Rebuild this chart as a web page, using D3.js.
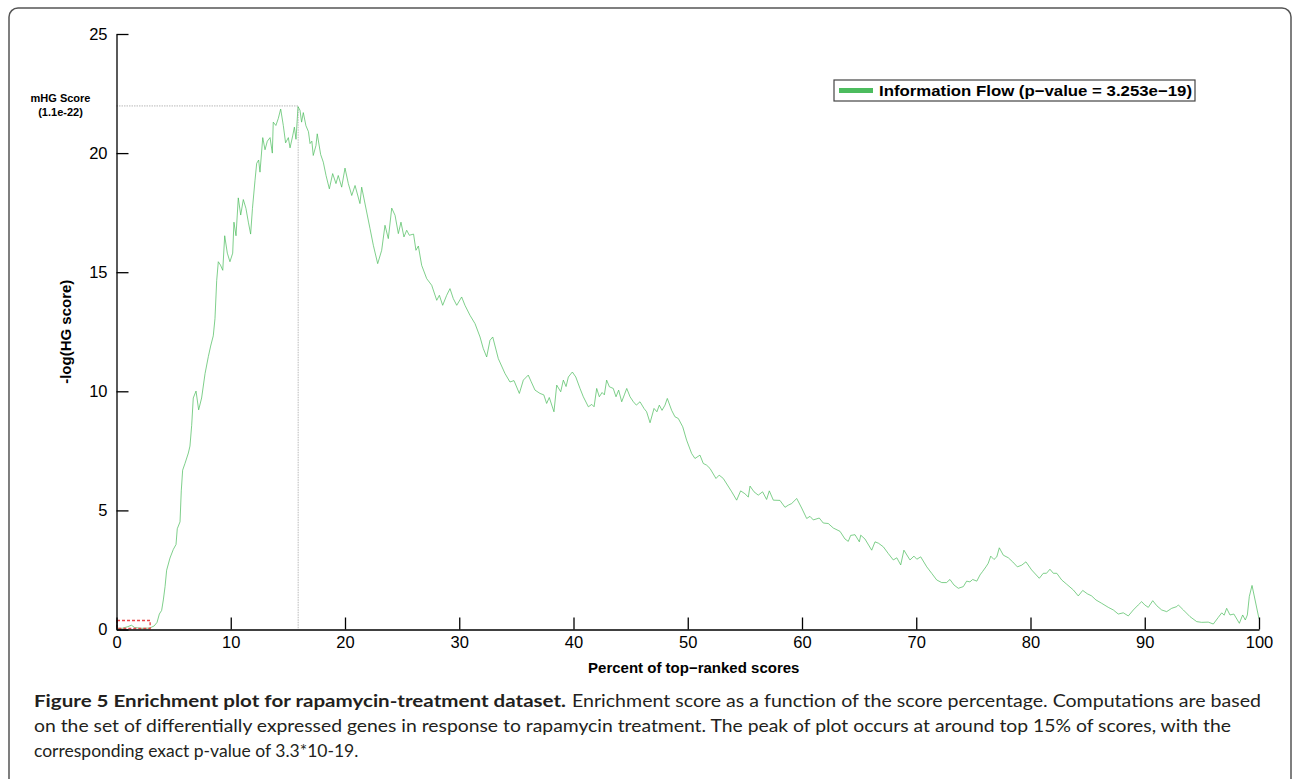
<!DOCTYPE html>
<html>
<head>
<meta charset="utf-8">
<script src="https://cdn.jsdelivr.net/npm/d3@7"></script>
<style>
    body { margin: 0; background: #fff; }
    .tick text { font-family: "Liberation Sans", Arial, sans-serif; font-size: 16.5px; fill: #000; }
    .domain, .tick line { stroke: #000; stroke-width: 1.3px; }
    .title { font-family: "Liberation Sans", Arial, sans-serif; font-weight: bold; font-size: 15px; }
    .caption { font-family: Lato, sans-serif; font-size: 17.5px; fill: #231f20; }
</style>
</head>
<body>
<svg id="visualisation"></svg>
<script>
// percent of top-ranked scores vs -log(HG score)
var pct = [0, 0.5, 1.0, 1.3, 1.6, 2.2, 2.9, 3.3, 3.55, 3.75, 3.95, 4.1, 4.25, 4.39, 4.68, 4.97, 5.21, 5.32, 5.56, 5.67,
    5.79, 6.0, 6.29, 6.43, 6.58, 6.72, 6.96, 7.19, 7.45, 7.75, 8.04, 8.24, 8.47, 8.62, 8.77, 8.91, 9.1, 9.3, 9.47, 9.7,
    9.93, 10.17, 10.28, 10.46, 10.66, 10.87, 11.1, 11.33, 11.54, 11.74, 11.9, 12.12, 12.27, 12.44, 12.56, 12.8, 13.0, 13.2, 13.44, 13.64,
    13.72, 13.95, 14.16, 14.37, 14.6, 14.8, 15.04, 15.19, 15.42, 15.57, 15.71, 15.89, 16.06, 16.2, 16.35, 16.58, 16.8, 16.94, 17.1, 17.22,
    17.46, 17.57, 17.87, 18.1, 18.34, 18.63, 18.92, 19.21, 19.41, 19.71, 20.0, 20.29, 20.59, 20.88, 21.31, 21.46, 22.19, 22.48, 22.86, 23.21,
    23.5, 23.79, 24.09, 24.38, 24.67, 24.9, 25.16, 25.4, 25.63, 26.0, 26.21, 26.42, 26.71, 27.15, 27.59, 28.03, 28.26, 28.55, 28.9, 29.19,
    29.48, 29.78, 30.21, 30.5, 30.94, 31.38, 31.82, 32.1, 32.4, 32.69, 32.93, 33.42, 34.0, 34.44, 34.79, 35.26, 35.61, 36.04, 36.3, 36.63,
    37.07, 37.4, 37.65, 37.88, 38.29, 38.53, 38.88, 39.11, 39.35, 39.55, 39.9, 40.2, 40.57, 40.86, 41.3, 41.6, 41.8, 42.03, 42.26, 42.5,
    42.7, 42.9, 43.14, 43.48, 43.72, 43.95, 44.22, 44.45, 44.66, 44.95, 45.24, 45.5, 45.82, 46.17, 46.4, 46.7, 47.05, 47.3, 47.51, 47.75,
    48.01, 48.21, 48.59, 48.88, 49.17, 49.56, 49.9, 50.34, 50.63, 51.07, 51.36, 51.65, 51.95, 52.47, 52.75, 53.11, 53.85, 54.28, 54.63, 55.0,
    55.3, 55.45, 55.8, 56.17, 56.55, 56.9, 57.14, 57.49, 58.07, 58.51, 58.8, 59.1, 59.54, 59.97, 60.41, 60.7, 60.99, 61.51, 61.86, 62.3,
    62.74, 63.33, 63.76, 64.05, 64.26, 64.64, 65.02, 65.14, 65.51, 66.1, 66.39, 66.7, 67.12, 67.55, 67.99, 68.3, 68.64, 68.92, 69.45, 69.8,
    70.05, 70.39, 70.92, 71.35, 71.79, 72.23, 72.65, 72.95, 73.3, 73.68, 74.12, 74.41, 74.7, 74.94, 75.3, 75.58, 75.8, 76.1, 76.3, 76.52,
    76.8, 77.05, 77.27, 77.62, 78.06, 78.44, 78.85, 79.23, 79.6, 80.1, 80.77, 81.12, 81.4, 81.7, 82.0, 82.3, 82.73, 83.17, 83.75, 84.18,
    84.57, 84.97, 85.35, 85.73, 86.23, 86.81, 87.25, 87.68, 88.12, 88.56, 89.0, 89.43, 89.73, 90.0, 90.31, 90.7, 91.05, 91.48, 91.92, 92.36,
    92.8, 92.94, 93.38, 93.96, 94.55, 94.98, 95.56, 96.0, 96.44, 96.74, 96.95, 97.17, 97.46, 97.8, 98.28, 98.57, 98.8, 98.98, 99.15, 99.39,
    100];
var score = [0.05, 0.05, 0.12, 0.18, 0.08, 0.05, 0.06, 0.15, 0.3, 0.65, 0.8, 1.24, 1.8, 2.49, 3.0, 3.36, 3.57, 4.23, 4.52, 5.82,
    6.69, 6.98, 7.41, 7.7, 8.57, 9.72, 10.01, 9.22, 9.72, 10.74, 11.46, 11.9, 12.33, 13.05, 14.65, 15.44, 15.3, 15.08, 16.53, 15.8,
    15.44, 15.8, 17.1, 16.53, 18.12, 17.4, 18.05, 17.68, 17.1, 16.6, 17.68, 18.84, 19.57, 19.71, 19.2, 20.65, 20.14, 20.5, 20.65, 20.0,
    21.3, 21.16, 21.45, 21.85, 21.16, 20.43, 20.65, 20.22, 20.72, 21.09, 20.58, 21.95, 21.8, 21.3, 21.7, 21.15, 20.9, 20.4, 20.5, 19.9,
    20.32, 20.81, 19.94, 19.62, 19.06, 18.5, 19.14, 18.72, 19.06, 18.57, 19.37, 18.72, 18.22, 18.64, 17.88, 18.57, 16.83, 16.13, 15.36, 15.92,
    16.97, 16.41, 17.69, 17.39, 16.62, 17.1, 16.48, 16.76, 16.55, 16.6, 15.92, 16.1, 15.29, 14.73, 14.45, 13.82, 14.03, 13.61, 14.03, 14.31,
    13.89, 13.61, 13.96, 13.61, 13.19, 12.84, 12.28, 11.8, 11.44, 12.14, 12.28, 11.37, 10.75, 10.39, 10.45, 9.91, 10.47, 10.68, 10.4, 10.05,
    9.91, 9.85, 9.49, 9.74, 9.14, 10.26, 9.98, 10.47, 10.2, 10.6, 10.81, 10.6, 10.12, 9.77, 9.35, 9.45, 9.35, 10.12, 9.77, 9.95,
    9.85, 10.47, 10.19, 10.12, 9.77, 10.05, 9.56, 9.85, 10.12, 9.77, 9.56, 9.42, 9.56, 9.28, 9.14, 8.68, 9.28, 9.14, 9.42, 9.2,
    9.42, 9.7, 9.2, 8.93, 8.86, 8.51, 7.95, 7.39, 7.18, 7.32, 6.97, 6.9, 6.76, 6.34, 6.48, 6.34, 5.78, 5.43, 5.82, 5.7,
    5.56, 6.02, 5.78, 5.64, 5.78, 5.46, 5.82, 5.43, 5.42, 5.13, 5.22, 5.29, 5.5, 5.1, 4.66, 4.75, 4.6, 4.68, 4.47, 4.45,
    4.26, 4.12, 3.8, 3.7, 3.95, 3.98, 3.68, 3.96, 3.8, 3.33, 3.68, 3.62, 3.47, 3.19, 2.92, 3.01, 2.71, 3.33, 2.92, 3.08,
    2.95, 3.05, 2.63, 2.36, 2.08, 1.97, 1.97, 2.1, 1.87, 1.73, 1.8, 2.03, 2.0, 2.1, 2.03, 2.29, 2.43, 2.63, 2.78, 3.08,
    2.94, 3.05, 3.43, 3.12, 3.01, 2.84, 2.63, 2.7, 2.84, 2.5, 2.15, 2.36, 2.36, 2.53, 2.36, 2.36, 2.08, 1.9, 1.66, 1.41,
    1.64, 1.5, 1.41, 1.24, 1.1, 0.93, 0.82, 0.65, 0.7, 0.57, 0.82, 1.03, 1.17, 1.03, 0.93, 1.21, 1.0, 0.82, 0.75, 0.89,
    0.96, 1.03, 0.82, 0.54, 0.33, 0.3, 0.31, 0.23, 0.51, 0.7, 0.6, 0.89, 0.61, 0.65, 0.26, 0.61, 0.4, 0.61, 1.38, 1.85,
    0.45];

var xTicks = [0, 10, 20, 30, 40, 50, 60, 70, 80, 90, 100];
var yTicks = [0, 5, 10, 15, 20, 25];

// minimum HG point and the small box near the origin
var mhgPct = 15.9;
var mhgScore = 21.98;
var boxPct = [0, 2.9];
var boxScore = [0, 0.38];

var legendText = 'Information Flow (p\u2212value = 3.253e\u221219)';
var captionBold = 'Figure 5 Enrichment plot for rapamycin-treatment dataset.';
var captionLines = [
    'Enrichment score as a function of the score percentage. Computations are based',
    'on the set of differentially expressed genes in response to rapamycin treatment. The peak of plot occurs at around top 15% of scores, with the',
    'corresponding exact p-value of 3.3*10-19.'
];

var W = 1293, H = 779;
var margin = { top: 34, right: 34, bottom: 149.5, left: 116.5 };
var width = W - margin.left - margin.right;
var height = H - margin.top - margin.bottom;

var root = d3.select('#visualisation')
    .attr('width', W)
    .attr('height', H);

// figure frame
root.append('rect')
    .attr('x', 9).attr('y', 8)
    .attr('width', 1282).attr('height', 780)
    .attr('rx', 9)
    .attr('fill', 'none')
    .attr('stroke', '#555')
    .attr('stroke-width', 1.5);

var svg = root.append('g')
    .attr('transform', `translate(${margin.left}, ${margin.top})`);

var xScale = d3.scaleLinear().domain([0, 100]).range([0, width]);
var yScale = d3.scaleLinear().domain([0, 25]).range([height, 0]);

// mHG guide lines
svg.append('path')
    .attr('d', `M0,${yScale(mhgScore)}H${xScale(mhgPct)}V${height}`)
    .attr('fill', 'none')
    .attr('stroke', '#b8b8b8')
    .attr('stroke-width', 1)
    .attr('stroke-dasharray', '1.5,1');

// the curve
var line = d3.line()
    .x((d, i) => xScale(pct[i]))
    .y(d => yScale(d));

svg.append('path')
    .attr('d', line(score))
    .attr('fill', 'none')
    .attr('stroke', '#4cbc5e')
    .attr('stroke-opacity', 0.8)
    .attr('stroke-width', 0.9);

// red dashed box
svg.append('rect')
    .attr('x', xScale(boxPct[0]) + 0.5)
    .attr('y', yScale(boxScore[1]))
    .attr('width', xScale(boxPct[1]) - xScale(boxPct[0]))
    .attr('height', yScale(boxScore[0]) - yScale(boxScore[1]) - 1)
    .attr('fill', 'none')
    .attr('stroke', '#e8474a')
    .attr('stroke-width', 1.4)
    .attr('stroke-dasharray', '3,2');

// axes, MATLAB style ticks pointing inward
svg.append('g')
    .attr('transform', `translate(0, ${height})`)
    .call(d3.axisBottom(xScale).tickValues(xTicks).tickSizeInner(-12).tickSizeOuter(0).tickPadding(7));

svg.append('g')
    .call(d3.axisLeft(yScale).tickValues(yTicks).tickSizeInner(-12).tickSizeOuter(0).tickPadding(9));

// axis labels
svg.append('text')
    .classed('title', true)
    .attr('x', width / 2 + 6)
    .attr('y', height + 43)
    .style('text-anchor', 'middle')
    .text('Percent of top\u2212ranked scores');

svg.append('text')
    .classed('title', true)
    .attr('transform', `translate(${-46}, ${height / 2}) rotate(-90)`)
    .style('text-anchor', 'middle')
    .text('-log(HG score)');

// mHG label
svg.append('text')
    .classed('title', true)
    .style('font-size', '11px')
    .style('text-anchor', 'middle')
    .attr('x', -56)
    .attr('y', yScale(mhgScore) - 4)
    .text('mHG Score');
svg.append('text')
    .classed('title', true)
    .style('font-size', '11px')
    .style('text-anchor', 'middle')
    .attr('x', -56)
    .attr('y', yScale(mhgScore) + 10)
    .text('(1.1e-22)');

// legend
var legend = root.append('g').attr('transform', 'translate(834, 80)');
legend.append('rect')
    .attr('width', 361).attr('height', 21)
    .attr('fill', '#fff')
    .attr('stroke', '#444')
    .attr('stroke-width', 1.2);
legend.append('path')
    .attr('d', 'M5,10.5H39')
    .attr('stroke', '#4cbc5e')
    .attr('stroke-width', 5);
legend.append('text')
    .classed('title', true)
    .attr('x', 45)
    .attr('y', 15.5)
    .attr('textLength', 313)
    .attr('lengthAdjust', 'spacingAndGlyphs')
    .text(legendText);

// caption
var cap = root.append('g');
cap.append('text')
    .classed('caption', true)
    .style('font-weight', 'bold')
    .attr('x', 34).attr('y', 707)
    .attr('textLength', 532)
    .attr('lengthAdjust', 'spacingAndGlyphs')
    .text(captionBold);
var capWidths = [689, 1197, null];
var capX = [572, 34, 34];
captionLines.forEach((t, i) => {
    var el = cap.append('text')
        .classed('caption', true)
        .attr('x', capX[i])
        .attr('y', 707 + 25 * i)
        .text(t);
    if (capWidths[i]) {
        el.attr('textLength', capWidths[i])
            .attr('lengthAdjust', 'spacingAndGlyphs');
    }
});
</script>
</body>
</html>
